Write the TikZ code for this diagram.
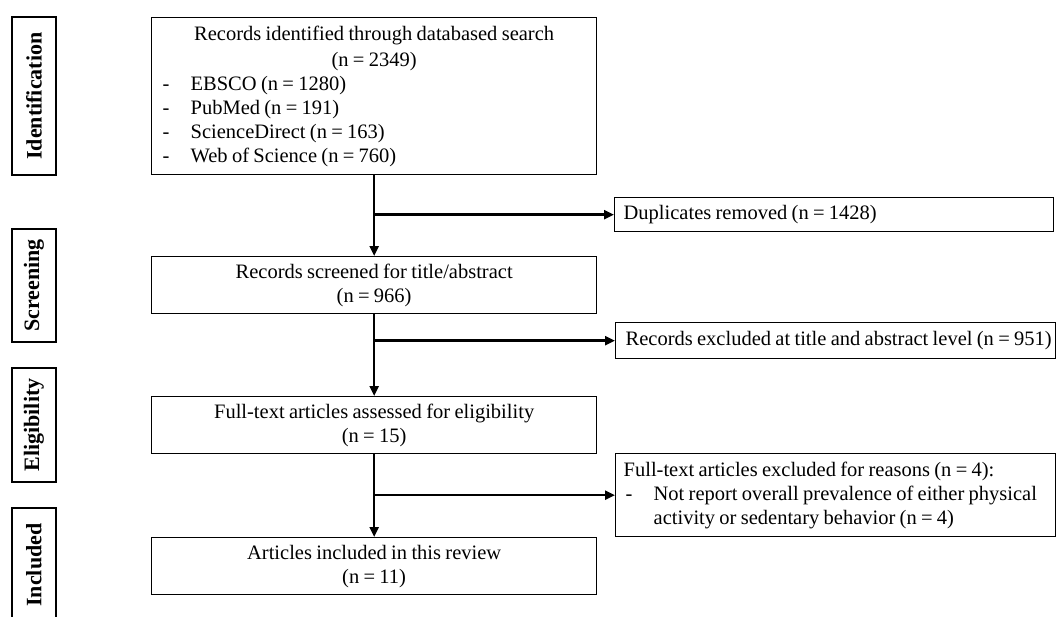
\documentclass[tikz,border=0pt]{standalone}
\usepackage{fontspec}
\setmainfont{Liberation Serif}[WordSpace=0.8]
\usetikzlibrary{arrows.meta}
\newcommand\dashitem[1]{\hspace*{11pt}\makebox[28pt][l]{-}#1}
\begin{document}
\begin{tikzpicture}[x=1pt,y=-1pt,line cap=butt,line join=miter,>={Triangle[length=10pt,width=9pt]}]
	\tikzset{box/.style={draw,line width=1.3pt,anchor=north west,inner sep=0pt,
			font=\fontsize{20.5}{24}\selectfont,execute at begin node={\spaceskip=0.21em\relax}},
		mainbox/.style={box,minimum width=445pt,minimum height=57pt,align=center},
		sidebox/.style={box,text width=421pt,inner xsep=9pt,align=left},
		stage/.style={draw,line width=2.2pt,rotate=90,minimum height=44pt,inner sep=0pt,
			font=\fontsize{22}{26}\selectfont\bfseries},
		flow/.style={->,line width=2.4pt}}
	\useasboundingbox (0,0) rectangle (1057,616);
	% phases
	\node[stage,minimum width=158pt] (idlab) at (34,96) {Identification};
	\node[stage,minimum width=113pt] (scrlab) at (34,285.5) {Screening};
	\node[stage,minimum width=114pt] (elilab) at (34,425) {Eligibility};
	\node[stage,minimum width=114pt] (inclab) at (34,565) {Included};
	% main column
	\node[box,text width=445pt,minimum height=157pt,align=left] (ident) at (151,17) {%
		{\centering Records identified through databased search\\[2pt](n = 2349)\par}
		\dashitem{EBSCO (n = 1280)}\\
		\dashitem{PubMed (n = 191)}\\
		\dashitem{ScienceDirect (n = 163)}\\
		\dashitem{Web of Science (n = 760)}};
	\node[mainbox] (screen) at (151,256) {Records screened for title/abstract\\(n = 966)};
	\node[mainbox] (elig) at (151,396) {Full-text articles assessed for eligibility\\(n = 15)};
	\node[mainbox] (incl) at (151,537) {Articles included in this review\\(n = 11)};
	% excluded
	\node[sidebox,minimum height=34pt] (dup) at (614,197) {Duplicates removed (n = 1428)};
	\node[sidebox,minimum height=36pt,inner xsep=10pt,text width=420pt] (tiab) at (615,322)
		{\mbox{Records excluded at title and abstract level (n = 951)}};
	\node[sidebox,minimum height=83pt,inner xsep=8pt,text width=424pt] (ftex) at (615,453) {%
		Full-text articles excluded for reasons (n = 4):\\
		\hspace*{2pt}\makebox[28pt][l]{-}Not report overall prevalence of either physical\\
		\hspace*{30pt}activity or sedentary behavior (n = 4)};
	% arrows
	\draw[flow] (ident.south) -- (screen.north);
	\draw[flow] (ident.south |- dup.west) -- (dup.west);
	\draw[flow] (screen.south) -- (elig.north);
	\draw[flow] (screen.south |- tiab.west) -- (tiab.west);
	\draw[flow] (elig.south) -- (incl.north);
	\draw[flow] (elig.south |- ftex.west) -- (ftex.west);
\end{tikzpicture}
\end{document}
